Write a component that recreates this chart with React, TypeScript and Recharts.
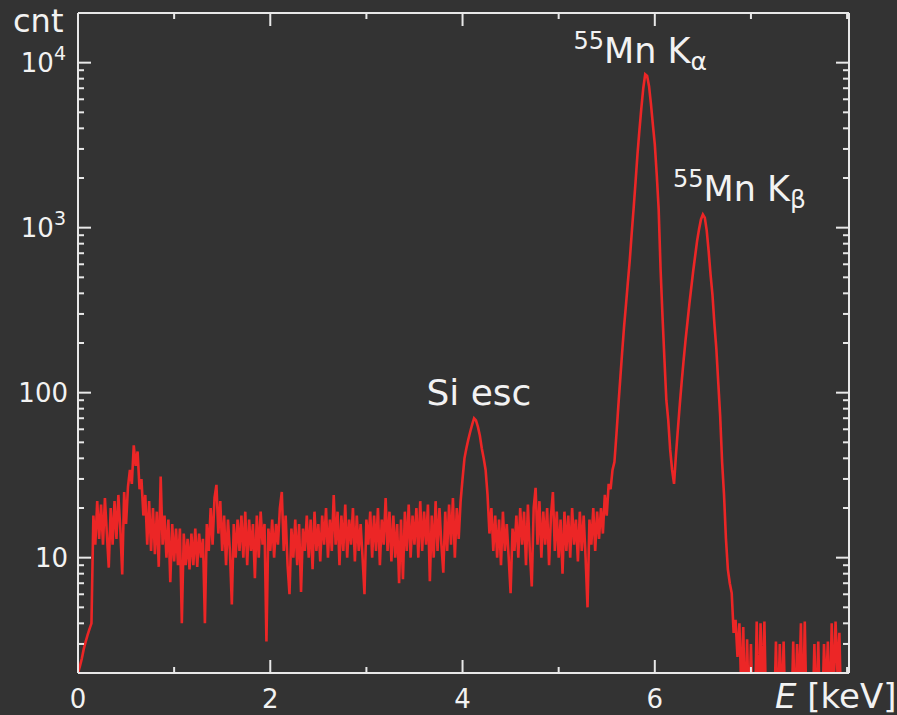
import React from 'react';
import { LineChart, Line, XAxis, YAxis, ReferenceDot } from 'recharts';

// spectrum: counts per 0.02 keV channel
const E_STEP = 0.02;

const counts0to2 = [
  2.0, 2.2, 2.45, 2.8, 3.1, 3.4, 3.7, 4.0, 18, 12,
  22, 13, 21, 12, 23, 14, 8.7, 20, 12, 22,
  13, 24, 15, 7.9, 25, 16, 27, 34, 28, 48,
  36, 44, 26, 30, 18, 24, 12, 22, 11, 20,
  10.5, 19, 8.8, 31, 12, 18, 10, 17, 7.1, 16,
  9.5, 15, 9, 15, 4.0, 14, 9, 13, 8.5, 14,
  9, 15, 8.8, 14, 10, 13, 4.0, 16, 11, 20,
  12, 23, 27.6, 14, 22, 11, 18, 9, 17, 11,
  5.2, 16, 10, 17, 11, 18, 10, 19, 9, 17,
  11, 16, 7.5, 18, 10, 19, 12, 16, 3.1, 15,
];

const counts2to4 = [
  11, 17, 10, 16, 12, 20, 25, 11, 18, 9,
  6.0, 15, 10, 17, 9, 16, 6.2, 15, 11, 18,
  10, 17, 8.5, 19, 11, 16, 9.5, 18, 12, 20,
  10, 17, 11, 24, 12, 19, 9, 18, 11, 21,
  10, 17, 12, 20, 9.5, 18, 11, 16, 10, 6.0,
  17, 12, 19, 10, 18, 11, 20, 9, 17, 12,
  23, 11, 19, 9.5, 18, 10, 16, 7.0, 17, 7.4,
  19, 11, 21, 10, 18, 12, 20, 10, 22, 11,
  19, 12, 21, 7.2, 18, 10, 22, 11, 20, 12,
  8.1, 19, 11, 21, 12, 23, 10, 20, 13, 22,
];

const counts4to6 = [
  30, 40, 46, 52, 58, 64, 70, 68, 62, 55,
  46, 40, 34, 24, 14, 20, 11, 18, 10, 17,
  9, 19, 11, 16, 10, 6.1, 15, 11, 18, 10,
  20, 12, 19, 9, 21, 11, 6.7, 20, 26.5, 12,
  22, 10, 19, 12, 20, 9, 18, 25, 11, 19,
  10, 17, 8, 19, 11, 18, 10, 20, 12, 17,
  9.5, 19, 11, 18, 10, 5.0, 17, 12, 20, 11,
  19, 13, 20, 14, 24, 18, 28, 26, 34, 38,
  55, 82, 120, 175, 250, 340, 470, 640, 930, 1320,
  1900, 2800, 3900, 5300, 7000, 8500, 8300, 7200, 5600, 4200,
];

const counts6to8 = [
  3200, 2100, 1300, 560, 290, 160, 90, 68, 45, 34,
  28, 42, 60, 85, 117, 158, 209, 269, 347, 437,
  550, 676, 832, 977, 1122, 1202, 1150, 960, 720, 520,
  390, 260, 185, 115, 72, 38, 24, 13, 8.5, 7,
  6.1, 3.5, 4.2, 2.5, 4.0, 1.5, 3.8, 1, 3.2, 1,
  3.0, 1, 1, 4.1, 1, 4.0, 1.5, 4.1, 1, 1,
  1, 1, 1, 3.1, 1, 3.0, 1.2, 3.1, 1, 1,
  1, 1, 3.1, 1, 3.0, 1.5, 4.0, 1, 4.1, 1,
  1, 1, 1, 3.0, 1, 3.1, 1, 1, 3.0, 1.5,
  3.1, 1, 4.0, 1.5, 4.1, 2, 3.5, 1, 1, 1, 1,
];

const xTicks = [0, 1, 2, 3, 4, 5, 6, 7, 8];
const xLabels = [0, 2, 4, 6];
const yMajor = [10, 100, 1000, 10000];
const yMinor = [
  3, 4, 5, 6, 7, 8, 9,
  20, 30, 40, 50, 60, 70, 80, 90,
  200, 300, 400, 500, 600, 700, 800, 900,
  2000, 3000, 4000, 5000, 6000, 7000, 8000, 9000,
];
const yTicks = [...yMinor, ...yMajor].sort((a, b) => a - b);

const annotations = [
  { e: 4.17, cnt: 84, main: 'Si esc', sup: '', sub: '' },
  { e: 5.155, cnt: 9900, main: 'Mn K', sup: '55', sub: 'α' },
  { e: 6.19, cnt: 1450, main: 'Mn K', sup: '55', sub: 'β' },
];

const spectrum = [...counts0to2, ...counts2to4, ...counts4to6, ...counts6to8].map((c, i) => ({
  e: +(i * E_STEP).toFixed(2),
  c,
}));

const BG = '#333333';
const AXIS = '#e8e8e8';
const TEXT = '#f2f2f2';
const RED = '#ec2626';
const FONT = '"DejaVu Sans", sans-serif';

const bottomTick = (props: any) => {
  const { x, y, payload } = props;
  const major = xLabels.includes(payload.value);
  return (
    <g>
      <line x1={x} x2={x} y1={y} y2={y - (major ? 13 : 6)} stroke={AXIS} strokeWidth={2} />
      {major && (
        <text x={x} y={y + 35} textAnchor="middle" fill={TEXT} fontSize={26} fontFamily={FONT}>
          {payload.value}
        </text>
      )}
    </g>
  );
};

const topTick = (props: any) => {
  const { x, y, payload } = props;
  const major = xLabels.includes(payload.value);
  return <line x1={x} x2={x} y1={y} y2={y + (major ? 13 : 6)} stroke={AXIS} strokeWidth={2} />;
};

const leftTick = (props: any) => {
  const { x, y, payload } = props;
  const v = payload.value;
  const major = yMajor.includes(v);
  let label: React.ReactNode = null;
  if (major) {
    const exp = Math.round(Math.log10(v));
    label =
      exp >= 3 ? (
        <text x={x - 12} y={y + 9} textAnchor="end" fill={TEXT} fontSize={26} fontFamily={FONT}>
          10
          <tspan dy={-12} fontSize={19}>
            {exp}
          </tspan>
        </text>
      ) : (
        <text x={x - 10} y={y + 9} textAnchor="end" fill={TEXT} fontSize={26} fontFamily={FONT}>
          {v}
        </text>
      );
  }
  return (
    <g>
      <line x1={x} x2={x + (major ? 13 : 6)} y1={y} y2={y} stroke={AXIS} strokeWidth={2} />
      {label}
    </g>
  );
};

const rightTick = (props: any) => {
  const { x, y, payload } = props;
  const major = yMajor.includes(payload.value);
  return <line x1={x} x2={x - (major ? 13 : 6)} y1={y} y2={y} stroke={AXIS} strokeWidth={2} />;
};

const annoLabel = (a: (typeof annotations)[number]) => (props: any) => {
  const { x, y } = props.viewBox;
  if (!a.sup) {
    return (
      <text x={x} y={y} textAnchor="middle" fill={TEXT} fontSize={36} fontFamily={FONT}>
        {a.main}
      </text>
    );
  }
  return (
    <text x={x} y={y} textAnchor="start" fill={TEXT} fontSize={35} fontFamily={FONT}>
      <tspan fontSize={24} dy={-14}>
        {a.sup}
      </tspan>
      <tspan dy={14}>{a.main}</tspan>
      <tspan fontSize={25} dy={7}>
        {a.sub}
      </tspan>
    </text>
  );
};

export default function App() {
  return (
    <div
      style={{
        position: 'absolute',
        left: 0,
        top: 0,
        width: 897,
        height: 715,
        background: BG,
        overflow: 'hidden',
      }}
    >
      <LineChart
        width={897}
        height={715}
        data={spectrum}
        margin={{ top: 12, right: 47, left: 0, bottom: 0 }}
      >
        <XAxis
          dataKey="e"
          type="number"
          domain={[0, 8.02]}
          allowDataOverflow
          ticks={xTicks}
          interval={0}
          height={42}
          tickSize={0}
          tickMargin={0}
          tickLine={false}
          axisLine={{ stroke: AXIS, strokeWidth: 2 }}
          tick={bottomTick}
        />
        <XAxis
          xAxisId="top"
          orientation="top"
          dataKey="e"
          type="number"
          domain={[0, 8.02]}
          allowDataOverflow
          ticks={xTicks}
          interval={0}
          height={1}
          tickSize={0}
          tickMargin={0}
          tickLine={false}
          axisLine={{ stroke: AXIS, strokeWidth: 2 }}
          tick={topTick}
        />
        <YAxis
          type="number"
          scale="log"
          domain={[2, 20000]}
          allowDataOverflow
          ticks={yTicks}
          interval={0}
          width={78}
          tickSize={0}
          tickMargin={0}
          tickLine={false}
          axisLine={{ stroke: AXIS, strokeWidth: 2 }}
          tick={leftTick}
        />
        <YAxis
          yAxisId="right"
          orientation="right"
          type="number"
          scale="log"
          domain={[2, 20000]}
          allowDataOverflow
          ticks={yTicks}
          interval={0}
          width={1}
          tickSize={0}
          tickMargin={0}
          tickLine={false}
          axisLine={{ stroke: AXIS, strokeWidth: 2 }}
          tick={rightTick}
        />
        <Line
          type="linear"
          dataKey="c"
          stroke={RED}
          strokeWidth={2.6}
          dot={false}
          isAnimationActive={false}
        />
        {annotations.map((a) => (
          <ReferenceDot
            key={a.main + a.sub}
            x={a.e}
            y={a.cnt}
            r={0}
            fill="none"
            stroke="none"
            label={annoLabel(a)}
          />
        ))}
      </LineChart>
      <svg
        width={897}
        height={715}
        style={{ position: 'absolute', left: 0, top: 0, pointerEvents: 'none' }}
      >
        <text x={13} y={32} fill={TEXT} fontSize={32} fontFamily={FONT}>
          cnt
        </text>
        <text x={775} y={708} fill={TEXT} fontSize={34} fontFamily={FONT}>
          <tspan fontStyle="italic">E</tspan> [keV]
        </text>
      </svg>
    </div>
  );
}
